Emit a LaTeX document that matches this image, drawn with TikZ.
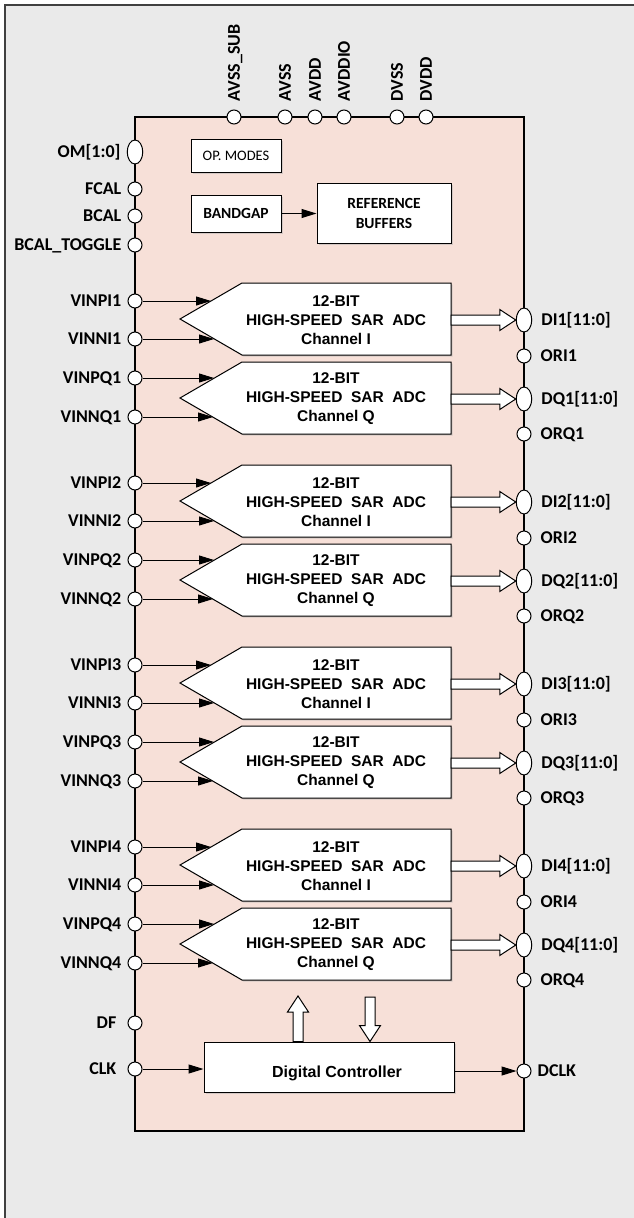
\documentclass[tikz,border=0pt]{standalone}
\usepackage{fontspec}
\setmainfont{Carlito}
\newfontfamily\arialfont{Liberation Sans}
\usetikzlibrary{positioning,calc,arrows.meta,shapes.geometric,shadows}

\definecolor{chipfill}{RGB}{247,224,216}
\definecolor{pagegray}{RGB}{234,234,234}

\tikzset{
  iopad/.style={circle, draw, fill=white, line width=1pt, inner sep=0pt, minimum size=14pt},
  buspad/.style={ellipse, draw, fill=white, line width=1pt, inner sep=0pt, minimum width=15.5pt, minimum height=24pt},
  plabel/.style={font=\bfseries\fontsize{18}{20}\selectfont, inner sep=0pt, text height=11.6pt, text depth=0pt},
  block/.style={draw, fill=white, line width=1pt, inner sep=0pt,
    drop shadow={shadow xshift=1.5pt, shadow yshift=-1.5pt, fill=black!30}},
  adctext/.style={font=\arialfont\bfseries\fontsize{15.5}{19}\selectfont, align=center, inner sep=0pt},
  sig/.style={line width=1pt, -{Triangle[length=15pt, width=9pt]}},
  bus/.style={draw, fill=white, line width=1pt, line join=miter,
    to path={($(\tikztostart)!5pt!90:(\tikztotarget)$)
      -- ($($(\tikztotarget)!16pt!(\tikztostart)$)!5pt!90:(\tikztotarget)$)
      -- ($($(\tikztotarget)!16pt!(\tikztostart)$)!10.5pt!90:(\tikztotarget)$)
      -- (\tikztotarget)
      -- ($($(\tikztotarget)!16pt!(\tikztostart)$)!10.5pt!-90:(\tikztotarget)$)
      -- ($($(\tikztotarget)!16pt!(\tikztostart)$)!5pt!-90:(\tikztotarget)$)
      -- ($(\tikztostart)!5pt!-90:(\tikztotarget)$) -- cycle}}
}

\begin{document}
\begin{tikzpicture}[x=1pt, y=-1pt]
\useasboundingbox (0,0) rectangle (634,1218);
\clip (0,0) rectangle (634,1218);
% page and chip outline
\draw[line width=2pt, draw=black!75, fill=pagegray] (5,5) rectangle (660,1240);
\draw[line width=2pt, fill=chipfill] (135,117) rectangle (524,1131);

% supply pins on top
\foreach \id/\x/\txt in {avsssub/234/AVSS\_SUB, avss/285/AVSS, avdd/315/AVDD,
    avddio/344/AVDDIO, dvss/397/DVSS, dvdd/426/DVDD} {
  \node[iopad] (\id) at (\x,117) {};
  \node[plabel, rotate=90, anchor=west] (l\id) at ($(\id.north)+(0,-8)$) {\txt};
}

% mode and calibration pins
\node[buspad] (om) at (135,152) {};
\node[plabel, left=6pt of om] (lom) {OM[1:0]};
\foreach \id/\y/\txt in {fcal/189/FCAL, bcal/216/BCAL, bcaltog/245/BCAL\_TOGGLE} {
  \node[iopad] (\id) at (135,\y) {};
  \node[plabel, left=6pt of \id] (l\id) {\txt};
}

% reference blocks
\node[block, minimum width=90pt, minimum height=33pt, font=\fontsize{14.5}{16}\selectfont] (opmodes) at (236,155.5) {OP. MODES};
\node[block, minimum width=90pt, minimum height=37pt, font=\bfseries\fontsize{15.5}{17}\selectfont] (bandgap) at (236,213.5) {BANDGAP};
\node[block, minimum width=134pt, minimum height=60pt, align=center, font=\bfseries\fontsize{15.5}{20}\selectfont] (refbuf) at (384,213) {REFERENCE\\BUFFERS};
\draw[sig] (bandgap.east) -- (bandgap.east -| refbuf.west);

% four I/Q converter pairs
\foreach \g in {1,...,4} {
  \pgfmathsetmacro{\yt}{283+182*(\g-1)}
  \draw[block] (451,\yt) -- (242,\yt) -- (180,\yt+36) -- (242,\yt+72) -- (451,\yt+72) -- cycle;
  \draw[block] (451,\yt+79) -- (242,\yt+79) -- (180,\yt+115) -- (242,\yt+151) -- (451,\yt+151) -- cycle;
  \node[adctext] (adci\g) at (336,\yt+37) {12-BIT\\HIGH-SPEED\ \ SAR\ \ ADC\\Channel I};
  \node[adctext] (adcq\g) at (336,\yt+116) {12-BIT\\HIGH-SPEED\ \ SAR\ \ ADC\\Channel Q};
  \coordinate (outi\g) at (451,\yt+37);
  \coordinate (outq\g) at (451,\yt+116);
  % analog inputs
  \foreach \id/\dy/\ex/\txt in {vinpi/18/211/VINPI, vinni/56/214/VINNI,
      vinpq/95/214/VINPQ, vinnq/134/213/VINNQ} {
    \node[iopad] (\id\g) at (135,\yt+\dy) {};
    \node[plabel, left=6pt of \id\g] (l\id\g) {\txt\g};
    \coordinate (end\id\g) at (\ex,\yt+\dy);
    \draw[sig] (\id\g) -- (end\id\g);
  }
  % outputs
  \foreach \id/\dy/\txt in {di/37/DI\g[11:0], dq/116/DQ\g[11:0]} {
    \node[buspad] (\id\g) at (524,\yt+\dy) {};
    \node[plabel, right=9pt of \id\g] (l\id\g) {\txt};
  }
  \foreach \id/\dy/\txt in {ori/73/ORI\g, orq/151/ORQ\g} {
    \node[iopad] (\id\g) at (524,\yt+\dy) {};
    \node[plabel, right=9pt of \id\g] (l\id\g) {\txt};
  }
  \draw[bus] (outi\g) to (di\g.west);
  \draw[bus] (outq\g) to (dq\g.west);
}

% controller
\node[iopad] (df) at (135,1023) {};
\node[plabel, left=11pt of df] (ldf) {DF};
\node[iopad] (clk) at (135,1069) {};
\node[plabel, left=11pt of clk] (lclk) {CLK};
\node[block, minimum width=250pt, minimum height=50pt, text height=24pt, text depth=3pt,
  font=\arialfont\bfseries\fontsize{16}{18}\selectfont] (dctrl) at (329,1067) {\hspace*{16pt}Digital Controller};
\node[iopad] (dclk) at (524,1071) {};
\node[plabel, right=6pt of dclk] (ldclk) {DCLK};
\draw[sig] (clk) -- (clk -| dctrl.west);
\draw[sig] (dctrl.east |- dclk) -- (dclk);
\coordinate (ctlup) at (298,996);
\coordinate (ctldn) at (370,997);
\coordinate (ctlupfoot) at (dctrl.north -| ctlup);
\coordinate (ctldnfoot) at (dctrl.north -| ctldn);
\draw[bus] (ctlupfoot) to (ctlup);
\draw[bus] (ctldn) to (ctldnfoot);
\end{tikzpicture}
\end{document}
